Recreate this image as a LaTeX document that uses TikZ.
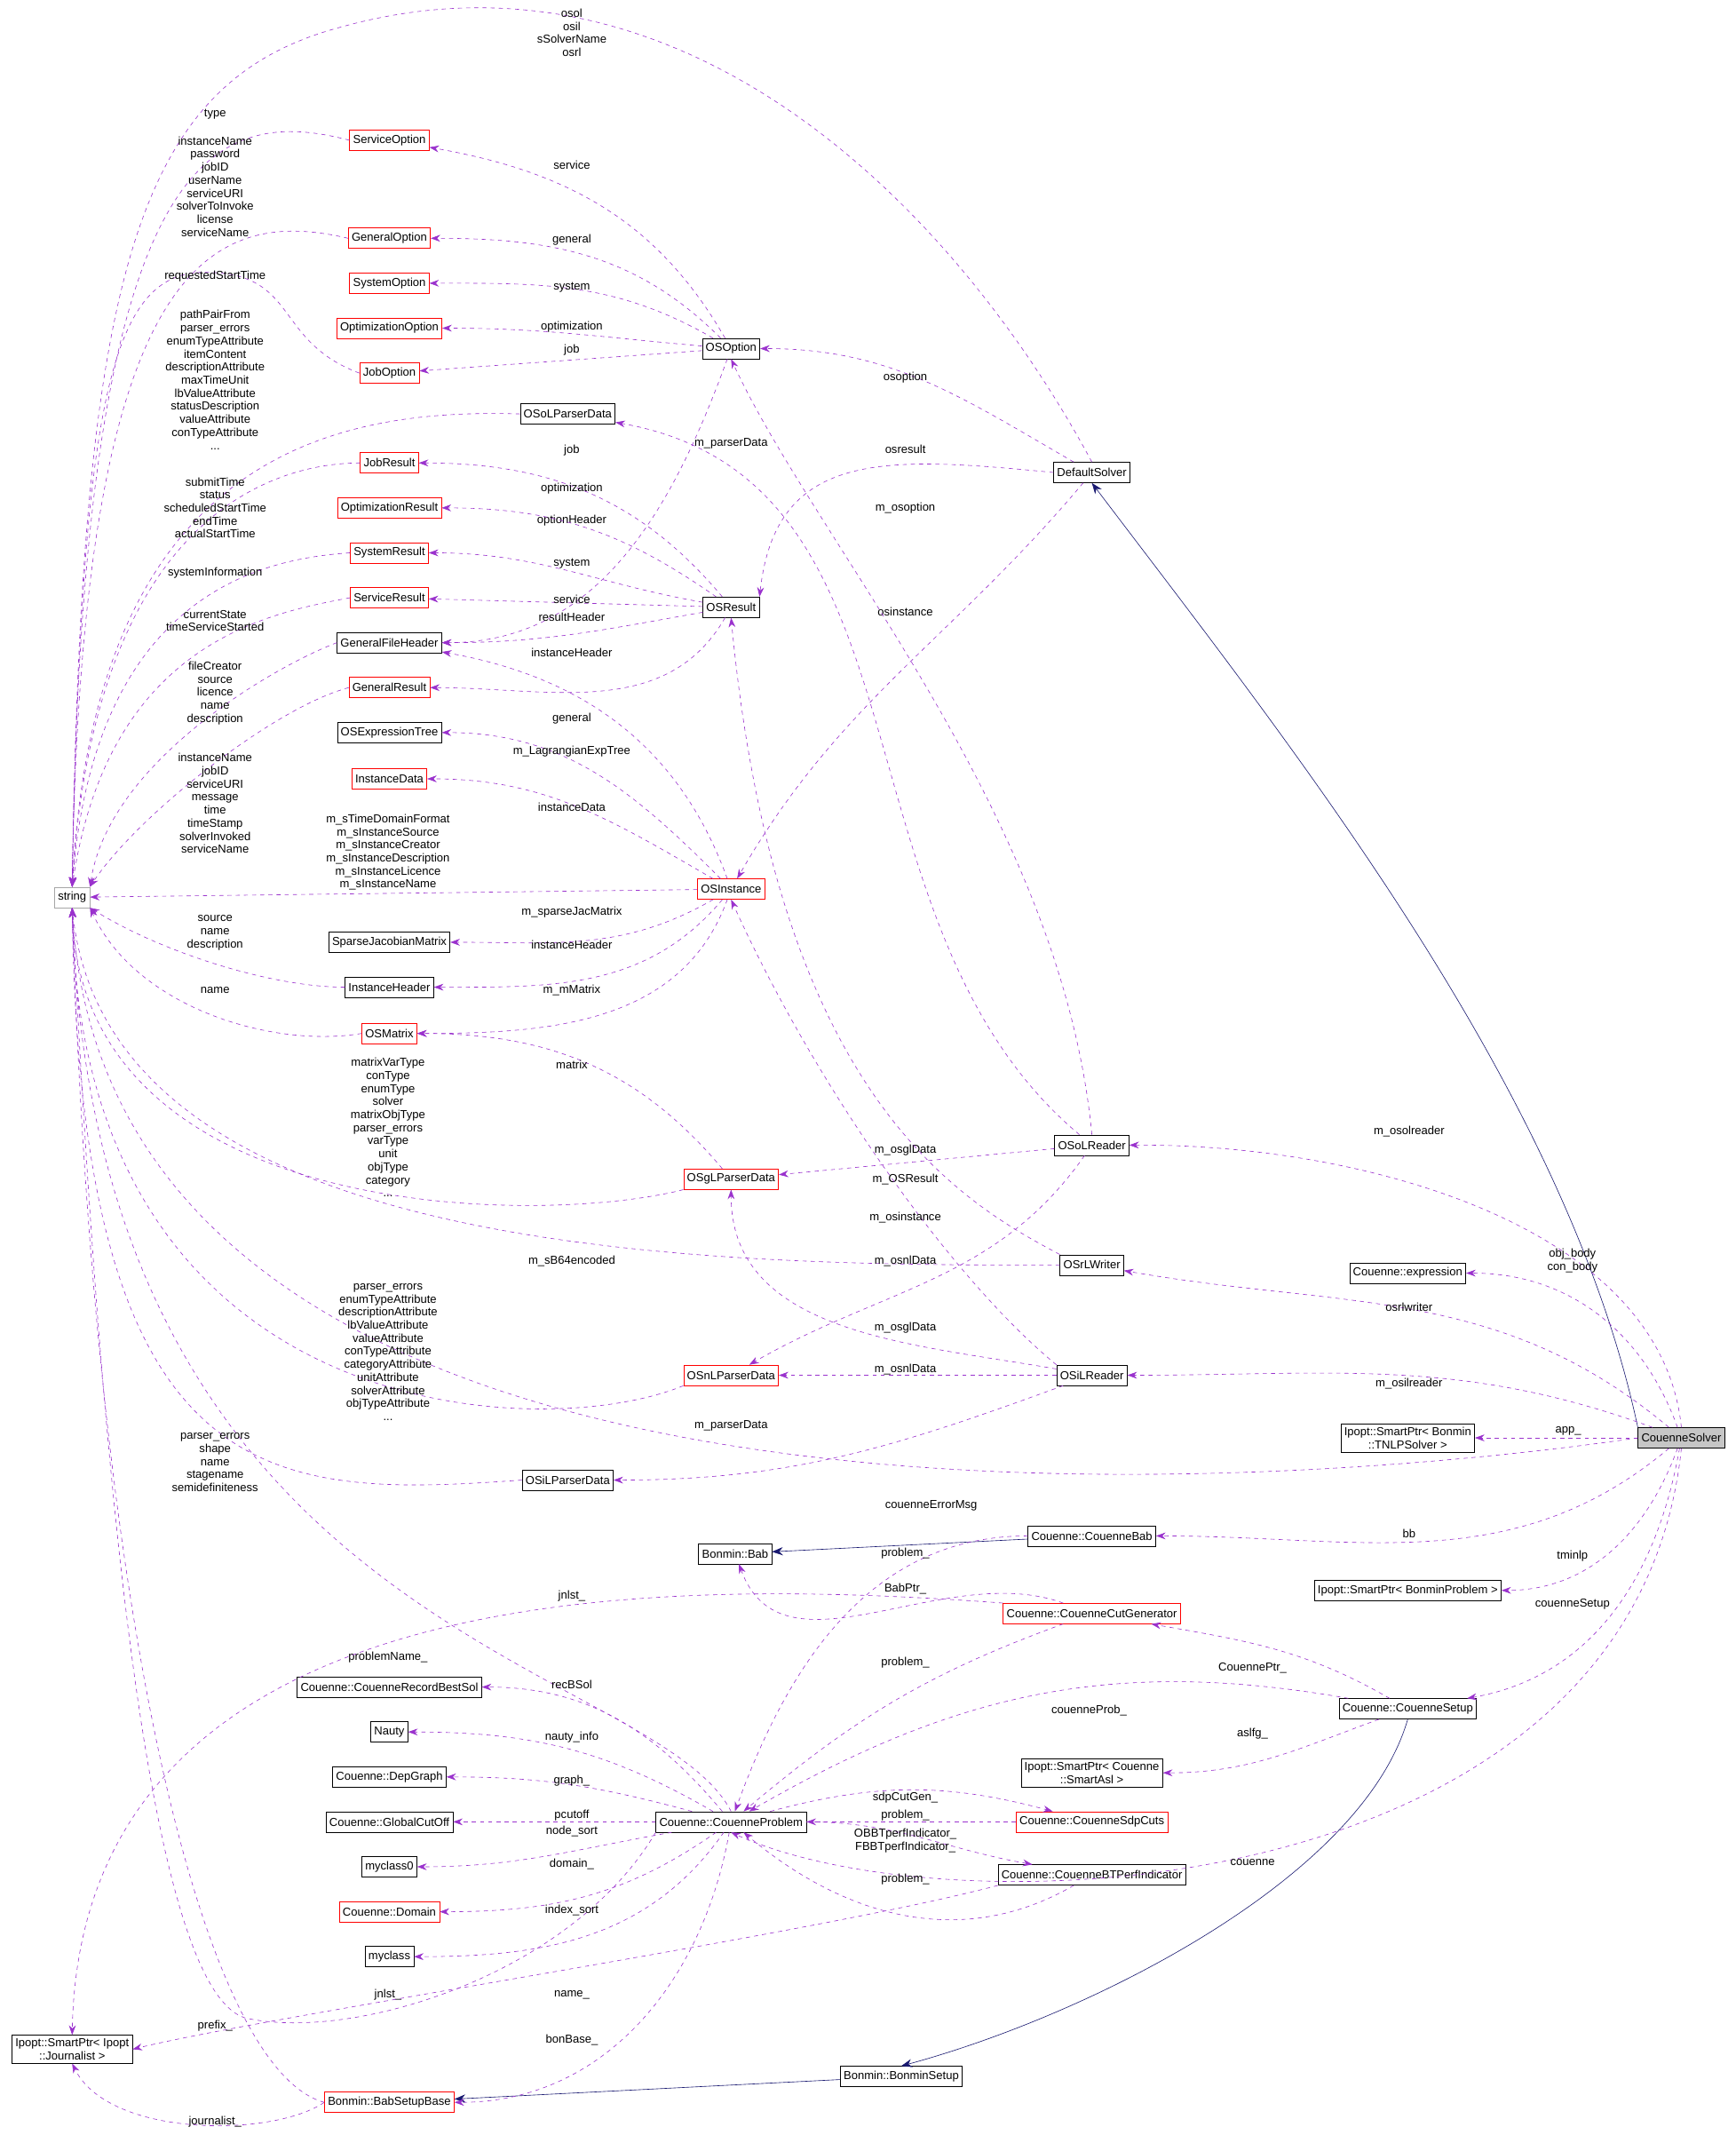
\documentclass[tikz,border=0pt]{standalone}
\usepackage{fontspec}
\setmainfont{Liberation Sans}
\usetikzlibrary{arrows.meta}
\definecolor{dp}{HTML}{9A32CD}
\definecolor{nv}{HTML}{191970}
\begin{document}
\begin{tikzpicture}[x=1pt,y=-1pt,
 every node/.style={font=\fontsize{8.5}{9}\selectfont},
 bx/.style={draw=black,fill=white,inner sep=2.5pt,minimum height=15pt},
 rbx/.style={bx,draw=red},
 gbx/.style={bx,draw=gray!70},
 lb/.style={align=center,inner sep=0pt,font=\fontsize{8.5}{9.6}\selectfont},
 dep/.style={draw=dp,dashed,-{Stealth[length=7pt,width=5pt]}},
 inh/.style={draw=nv,-{Stealth[length=8pt,width=6pt]}}]
\useasboundingbox (0,0) rectangle (1275,1568);
% nodes
\node[gbx] (string) at (53,659) {string};
\node[rbx] (ServiceOption) at (286,103) {ServiceOption};
\node[rbx] (GeneralOption) at (286,175) {GeneralOption};
\node[rbx] (SystemOption) at (286,208) {SystemOption};
\node[rbx] (OptimizationOption) at (286,241) {OptimizationOption};
\node[rbx] (JobOption) at (286,274) {JobOption};
\node[bx] (OSoLParserData) at (417,304) {OSoLParserData};
\node[rbx] (JobResult) at (286,340) {JobResult};
\node[rbx] (OptimizationResult) at (286,373) {OptimizationResult};
\node[rbx] (SystemResult) at (286,406) {SystemResult};
\node[rbx] (ServiceResult) at (286,439) {ServiceResult};
\node[bx] (GeneralFileHeader) at (286,472) {GeneralFileHeader};
\node[rbx] (GeneralResult) at (286,505) {GeneralResult};
\node[bx] (OSExpressionTree) at (286,538) {OSExpressionTree};
\node[rbx] (InstanceData) at (286,572) {InstanceData};
\node[bx] (SparseJacobianMatrix) at (286,692) {SparseJacobianMatrix};
\node[bx] (InstanceHeader) at (286,725) {InstanceHeader};
\node[rbx] (OSMatrix) at (286,759) {OSMatrix};
\node[bx] (OSOption) at (537,256) {OSOption};
\node[bx] (DefaultSolver) at (802,347) {DefaultSolver};
\node[bx] (OSResult) at (537,446) {OSResult};
\node[rbx] (OSInstance) at (537,653) {OSInstance};
\node[rbx] (OSgLParserData) at (537,866) {OSgLParserData};
\node[rbx] (OSnLParserData) at (537,1010) {OSnLParserData};
\node[bx] (OSiLParserData) at (417,1087) {OSiLParserData};
\node[bx] (OSoLReader) at (802,841) {OSoLReader};
\node[bx] (OSrLWriter) at (802,929) {OSrLWriter};
\node[bx] (OSiLReader) at (802,1010) {OSiLReader};
\node[bx] (expression) at (1034,935) {Couenne::expression};
\node[bx,align=center,font=\fontsize{8.5}{9.6}\selectfont] (TNLP) at (1034,1056) {Ipopt::SmartPtr< Bonmin\\::TNLPSolver >};
\node[bx,fill=gray!45] (CouenneSolver) at (1235,1056) {CouenneSolver};
\node[bx] (CouenneBab) at (802,1128) {Couenne::CouenneBab};
\node[bx] (Bab) at (540,1141) {Bonmin::Bab};
\node[bx] (BonminProblem) at (1034,1168) {Ipopt::SmartPtr< BonminProblem >};
\node[rbx] (CutGen) at (802,1185) {Couenne::CouenneCutGenerator};
\node[bx] (CouenneSetup) at (1034,1255) {Couenne::CouenneSetup};
\node[bx] (RecordBestSol) at (286,1239) {Couenne::CouenneRecordBestSol};
\node[bx] (Nauty) at (286,1272) {Nauty};
\node[bx] (DepGraph) at (286,1305) {Couenne::DepGraph};
\node[bx] (GlobalCutOff) at (286,1338) {Couenne::GlobalCutOff};
\node[bx] (myclass0) at (286,1371) {myclass0};
\node[rbx] (Domain) at (286,1404) {Couenne::Domain};
\node[bx] (myclass) at (286,1437) {myclass};
\node[bx] (CouenneProblem) at (537,1338) {Couenne::CouenneProblem};
\node[bx,align=center,font=\fontsize{8.5}{9.6}\selectfont] (SmartAsl) at (802,1302) {Ipopt::SmartPtr< Couenne\\::SmartAsl >};
\node[rbx] (SdpCuts) at (802,1338) {Couenne::CouenneSdpCuts};
\node[bx] (BTPerf) at (802,1377) {Couenne::CouenneBTPerfIndicator};
\node[bx,align=center,font=\fontsize{8.5}{9.6}\selectfont] (Journalist) at (53,1505) {Ipopt::SmartPtr< Ipopt\\::Journalist >};
\node[rbx] (BabSetupBase) at (286,1544) {Bonmin::BabSetupBase};
\node[bx] (BonminSetup) at (662,1525) {Bonmin::BonminSetup};
% inheritance
\draw[inh] (CouenneSolver.north west) .. controls (1150,800) and (950,550) .. (DefaultSolver.south);
\draw[inh] (CouenneBab) -- (Bab);
\draw[inh] (CouenneSetup.south) .. controls (1000,1380) and (800,1480) .. (BonminSetup.north);
\draw[inh] (BonminSetup) -- (BabSetupBase);
% edges to string
\draw[dep] (DefaultSolver.north) .. controls (700,150) and (500,-50) .. (250,20) .. controls (100,60) and (60,200) .. (string.north);
\draw[dep] (ServiceOption.west) .. controls (150,75) and (60,120) .. (string.north);
\draw[dep] (GeneralOption.west) .. controls (150,150) and (60,200) .. (string.north);
\draw[dep] (JobOption.west) .. controls (200,250) and (220,200) .. (150,200) .. controls (80,200) and (60,300) .. (string.north);
\draw[dep] (OSoLParserData.west) .. controls (250,300) and (70,330) .. (string.north);
\draw[dep] (JobResult.west) .. controls (200,340) and (70,380) .. (string.north);
\draw[dep] (SystemResult.west) .. controls (200,410) and (70,430) .. (string.north);
\draw[dep] (ServiceResult.west) .. controls (200,450) and (80,470) .. (string.north);
\draw[dep] (GeneralFileHeader.west) .. controls (200,490) and (80,560) .. (string.north east);
\draw[dep] (GeneralResult.west) .. controls (200,520) and (100,600) .. (string.north east);
\draw[dep] (OSInstance) -- (string);
\draw[dep] (InstanceHeader.west) .. controls (200,725) and (120,700) .. (string.south east);
\draw[dep] (OSMatrix.west) .. controls (200,770) and (100,740) .. (string.south east);
\draw[dep] (OSgLParserData.south west) .. controls (400,900) and (60,900) .. (string.south);
\draw[dep] (OSrLWriter.west) .. controls (500,930) and (80,920) .. (string.south);
\draw[dep] (OSnLParserData.south west) .. controls (400,1060) and (60,1050) .. (string.south);
\draw[dep] (OSiLParserData.west) .. controls (200,1100) and (60,1100) .. (string.south);
\draw[dep] (CouenneSolver.west) .. controls (900,1100) and (80,1150) .. (string.south);
\draw[dep] (CouenneProblem.north) .. controls (480,1220) and (70,1200) .. (string.south);
\draw[dep] (CouenneProblem.south west) .. controls (420,1450) and (260,1500) .. (180,1482) .. controls (110,1460) and (75,1100) .. (string.south);
\draw[dep] (BabSetupBase.west) .. controls (150,1520) and (70,1200) .. (string.south);
% labels for string edges
\node[lb] (l1) at (420,24) {osol\\osil\\sSolverName\\osrl};
\node[lb] (l2) at (158,84) {type};
\node[lb] (l3) at (158,137) {instanceName\\password\\jobID\\userName\\serviceURI\\solverToInvoke\\license\\serviceName};
\node[lb] (l4) at (158,203) {requestedStartTime};
\node[lb] (l5) at (158,279) {pathPairFrom\\parser\_errors\\enumTypeAttribute\\itemContent\\descriptionAttribute\\maxTimeUnit\\lbValueAttribute\\statusDescription\\valueAttribute\\conTypeAttribute\\...};
\node[lb] (l6) at (158,373) {submitTime\\status\\scheduledStartTime\\endTime\\actualStartTime};
\node[lb] (l7) at (158,421) {systemInformation};
\node[lb] (l8) at (158,456) {currentState\\timeServiceStarted};
\node[lb] (l9) at (158,509) {fileCreator\\source\\licence\\name\\description};
\node[lb] (l10) at (158,590) {instanceName\\jobID\\serviceURI\\message\\time\\timeStamp\\solverInvoked\\serviceName};
\node[lb] (l11) at (285,626) {m\_sTimeDomainFormat\\m\_sInstanceSource\\m\_sInstanceCreator\\m\_sInstanceDescription\\m\_sInstanceLicence\\m\_sInstanceName};
\node[lb] (l12) at (158,685) {source\\name\\description};
\node[lb] (l13) at (158,727) {name};
\node[lb] (l14) at (285,828) {matrixVarType\\conType\\enumType\\solver\\matrixObjType\\parser\_errors\\varType\\unit\\objType\\category\\...};
\node[lb] (l15) at (420,926) {m\_sB64encoded};
\node[lb] (l16) at (285,993) {parser\_errors\\enumTypeAttribute\\descriptionAttribute\\lbValueAttribute\\valueAttribute\\conTypeAttribute\\categoryAttribute\\unitAttribute\\solverAttribute\\objTypeAttribute\\...};
\node[lb] (l17) at (158,1074) {parser\_errors\\shape\\name\\stagename\\semidefiniteness};
\node[lb] (l18) at (684,1106) {couenneErrorMsg};
\node[lb] (l19) at (285,1217) {problemName\_};
\node[lb] (l20) at (420,1465) {name\_};
\node[lb] (l21) at (285,1465) {jnlst\_};
% OSOption
\draw[dep] (OSOption) to[out=120,in=-10] (ServiceOption);
\draw[dep] (OSOption) to[out=135,in=0] (GeneralOption);
\draw[dep] (OSOption) to[out=150,in=0] (SystemOption);
\draw[dep] (OSOption) to[out=175,in=0] (OptimizationOption);
\draw[dep] (OSOption) -- (JobOption);
\draw[dep] (OSOption) to[out=-110,in=0] (GeneralFileHeader);
\node[lb] at (420,121) {service};
\node[lb] at (420,176) {general};
\node[lb] at (420,211) {system};
\node[lb] at (420,240) {optimization};
\node[lb] at (420,257) {job};
\node[lb] at (420,382) {optionHeader};
% DefaultSolver
\draw[dep] (DefaultSolver) to[out=150,in=0] (OSOption);
\draw[dep] (DefaultSolver.west) .. controls (650,335) and (570,330) .. (OSResult.north east);
\draw[dep] (DefaultSolver) to[out=-130,in=60] (OSInstance);
\node[lb] at (665,277) {osoption};
\node[lb] at (665,330) {osresult};
\node[lb] at (665,449) {osinstance};
% OSResult
\draw[dep] (OSResult) to[out=130,in=0] (JobResult);
\draw[dep] (OSResult) to[out=145,in=0] (OptimizationResult);
\draw[dep] (OSResult) to[out=170,in=0] (SystemResult);
\draw[dep] (OSResult) -- (ServiceResult);
\draw[dep] (OSResult) to[out=190,in=0] (GeneralFileHeader);
\draw[dep] (OSResult) to[out=-120,in=0] (GeneralResult);
\node[lb] at (420,331) {job};
\node[lb] at (420,359) {optimization};
\node[lb] at (420,414) {system};
\node[lb] at (420,440) {service};
\node[lb] at (420,453) {resultHeader};
\node[lb] at (420,528) {general};
% OSInstance
\draw[dep] (OSInstance) to[out=110,in=-10] (GeneralFileHeader);
\draw[dep] (OSInstance) to[out=135,in=0] (OSExpressionTree);
\draw[dep] (OSInstance) to[out=150,in=0] (InstanceData);
\draw[dep] (OSInstance) to[out=-150,in=0] (SparseJacobianMatrix);
\draw[dep] (OSInstance) to[out=-130,in=0] (InstanceHeader);
\draw[dep] (OSInstance) to[out=-110,in=0] (OSMatrix);
\node[lb] at (420,479) {instanceHeader};
\node[lb] at (420,552) {m\_LagrangianExpTree};
\node[lb] at (420,593) {instanceData};
\node[lb] at (420,670) {m\_sparseJacMatrix};
\node[lb] at (420,694) {instanceHeader};
\node[lb] at (420,727) {m\_mMatrix};
\draw[dep] (OSgLParserData) to[out=130,in=0] (OSMatrix);
\node[lb] at (420,782) {matrix};
% OSoLReader
\draw[dep] (OSoLReader) to[out=140,in=-10] (OSoLParserData);
\draw[dep] (OSoLReader.north) .. controls (780,600) and (600,400) .. (OSOption.south);
\draw[dep] (OSoLReader) -- (OSgLParserData);
\draw[dep] (OSoLReader) to[out=-125,in=30] (OSnLParserData);
\node[lb] at (537,326) {m\_parserData};
\node[lb] at (665,373) {m\_osoption};
\node[lb] at (665,845) {m\_osglData};
\node[lb] at (665,926) {m\_osnlData};
% OSrLWriter, OSiLReader
\draw[dep] (OSrLWriter.north west) .. controls (700,880) and (570,800) .. (OSResult.south);
\node[lb] at (665,866) {m\_OSResult};
\draw[dep] (OSiLReader.north west) .. controls (700,940) and (600,800) .. (OSInstance.south);
\draw[dep] (OSiLReader) to[out=170,in=-90] (OSgLParserData);
\draw[dep] (OSiLReader) -- (OSnLParserData);
\draw[dep] (OSiLReader) to[out=-160,in=0] (OSiLParserData);
\node[lb] at (665,894) {m\_osinstance};
\node[lb] at (665,975) {m\_osglData};
\node[lb,fill=white] at (665,1006) {m\_osnlData};
\node[lb] at (537,1047) {m\_parserData};
% CouenneSolver
\draw[dep] (CouenneSolver.north) .. controls (1220,900) and (1000,840) .. (OSoLReader.east);
\draw[dep] (CouenneSolver) to[out=110,in=0] (expression);
\draw[dep] (CouenneSolver) to[out=140,in=-10] (OSrLWriter);
\draw[dep] (CouenneSolver) to[out=160,in=0] (OSiLReader);
\draw[dep] (CouenneSolver) -- (TNLP);
\draw[dep] (CouenneSolver) to[out=-140,in=0] (CouenneBab);
\draw[dep] (CouenneSolver) to[out=-110,in=0] (BonminProblem);
\draw[dep] (CouenneSolver) to[out=-100,in=10] (CouenneSetup);
\draw[dep] (CouenneSolver.south) .. controls (1200,1400) and (700,1420) .. (CouenneProblem.south);
\node[lb] at (1035,831) {m\_osolreader};
\node[lb] at (1155,926) {obj\_body\\con\_body};
\node[lb] at (1035,960) {osrlwriter};
\node[lb] at (1035,1016) {m\_osilreader};
\node[lb] at (1152,1051) {app\_};
\node[lb] at (1035,1126) {bb};
\node[lb] at (1155,1143) {tminlp};
\node[lb] at (1155,1178) {couenneSetup};
\node[lb] at (920,1368) {couenne};
% CouenneBab / CutGen / Setup
\draw[dep] (CouenneBab) to[out=180,in=70] (CouenneProblem);
\node[lb] at (665,1141) {problem\_};
\draw[dep] (CutGen) to[out=160,in=-70] (Bab);
\node[lb] at (665,1167) {BabPtr\_};
\draw[dep] (CutGen) to[out=-160,in=40] (CouenneProblem);
\node[lb] at (665,1221) {problem\_};
\draw[dep] (CutGen.north west) .. controls (500,1160) and (60,1150) .. (Journalist.north);
\node[lb] at (420,1172) {jnlst\_};
\draw[dep] (CouenneSetup) to[out=150,in=-10] (CutGen);
\node[lb] at (920,1225) {CouennePtr\_};
\draw[dep] (CouenneSetup) to[out=170,in=30] (CouenneProblem);
\node[lb] at (800,1256) {couenneProb\_};
\draw[dep] (CouenneSetup) to[out=-160,in=0] (SmartAsl);
\node[lb] at (920,1273) {aslfg\_};
% CouenneProblem
\draw[dep] (CouenneProblem) to[out=130,in=0] (RecordBestSol);
\draw[dep] (CouenneProblem) to[out=150,in=0] (Nauty);
\draw[dep] (CouenneProblem) to[out=165,in=0] (DepGraph);
\draw[dep] (CouenneProblem) -- (GlobalCutOff);
\draw[dep] (CouenneProblem) to[out=190,in=0] (myclass0);
\draw[dep] (CouenneProblem) to[out=-145,in=0] (Domain);
\draw[dep] (CouenneProblem) to[out=-125,in=0] (myclass);
\draw[dep] (CouenneProblem) to[out=-100,in=0] (BabSetupBase);
\node[lb] at (420,1237) {recBSol};
\node[lb] at (420,1276) {nauty\_info};
\node[lb] at (420,1308) {graph\_};
\node[lb] at (420,1333) {pcutoff};
\node[lb] at (420,1345) {node\_sort};
\node[lb] at (420,1369) {domain\_};
\node[lb] at (420,1403) {index\_sort};
\node[lb] at (420,1498) {bonBase\_};
\draw[dep] (CouenneProblem) to[out=15,in=165] (SdpCuts);
\draw[dep] (SdpCuts) to[out=180,in=0] (CouenneProblem);
\node[lb] at (665,1320) {sdpCutGen\_};
\node[lb] at (665,1333) {problem\_};
\draw[dep] (CouenneProblem) to[out=0,in=170] (BTPerf);
\draw[dep] (BTPerf) to[out=-150,in=-40] (CouenneProblem);
\node[lb] at (665,1352) {OBBTperfIndicator\_\\FBBTperfIndicator\_};
\node[lb] at (665,1380) {problem\_};
\draw[dep] (BTPerf.south west) .. controls (600,1420) and (200,1480) .. (Journalist.east);
\node[lb] at (158,1488) {prefix\_};
\draw[dep] (BabSetupBase.west) .. controls (200,1570) and (80,1570) .. (Journalist.south);
\node[lb] at (158,1558) {journalist\_};
\end{tikzpicture}
\end{document}
